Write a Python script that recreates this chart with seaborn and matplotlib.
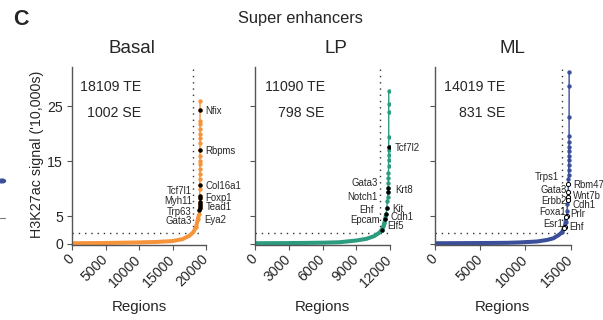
import numpy as np
import pandas as pd
import matplotlib
matplotlib.use("Agg")
import matplotlib.pyplot as plt
import seaborn as sns
from matplotlib.patches import Circle
from matplotlib.lines import Line2D

sns.set_style("ticks")
plt.rcParams["font.family"] = ["Liberation Sans", "DejaVu Sans"]

# ---------------- data ----------------
panels = ["Basal", "LP", "ML"]
te_counts = [18109, 11090, 14019]
se_counts = [1002, 798, 831]
thresholds = [2.0, 2.0, 2.0]
x_max = [20000, 12000, 15000]
x_ticks = [[0, 5000, 10000, 15000, 20000],
           [0, 3000, 6000, 9000, 12000],
           [0, 5000, 10000, 15000]]
y_ticks = [0, 5, 15, 25]
colors = ["#F6943C", "#2B9C7F", "#3A4E9A"]

basal_rank = [0, 2500, 5000, 7500, 10000, 12500, 15000, 16500, 17500, 18100,
              18500, 18800, 18950, 19010, 19035, 19045, 19052, 19058, 19064, 19070,
              19076, 19081, 19086, 19090, 19093, 19096, 19098, 19100, 19102, 19104,
              19105, 19106, 19107, 19108, 19109, 19110, 19111]
basal_signal = [0.1, 0.12, 0.15, 0.2, 0.25, 0.33, 0.5, 0.85, 1.45, 2.1,
                3.0, 4.5, 5.4, 6.2, 6.5, 6.9, 7.2, 7.6, 8.3, 8.7,
                9.9, 10.7, 11.8, 12.7, 13.6, 14.5, 15.1, 16.0, 17.1, 18.4,
                19.3, 19.9, 20.8, 21.8, 22.4, 24.3, 25.9]
basal_hl_rank = [19110, 19102, 19081, 19070, 19064, 19058, 19052, 19045, 19035, 19010]
basal_hl_signal = [24.3, 17.1, 10.7, 8.7, 8.3, 7.6, 7.2, 6.9, 6.5, 6.2]
basal_genes_right = ["Nfix", "Rbpms", "Col16a1", "Foxp1", "Tead1", "Eya2"]
basal_genes_left = ["Tcf7l1", "Myh11", "Trp63", "Gata3"]

lp_rank = [0, 2000, 4000, 6000, 7500, 9000, 9900, 10600, 11040, 11260,
           11420, 11500, 11580, 11650, 11710, 11760, 11800, 11825, 11842, 11852,
           11860, 11866, 11871, 11875, 11878, 11881, 11883, 11885, 11886, 11887, 11888]
lp_signal = [0.1, 0.12, 0.15, 0.2, 0.28, 0.6, 0.9, 1.4, 2.0, 2.5,
             3.2, 3.8, 4.5, 5.4, 6.5, 7.7, 8.6, 9.5, 10.1, 11.0,
             11.9, 12.9, 14.1, 15.3, 16.2, 17.0, 17.6, 19.4, 23.9, 25.4, 27.7]
lp_hl_rank = [11883, 11842, 11825, 11710, 11650, 11580, 11260]
lp_hl_signal = [17.6, 10.1, 9.5, 6.5, 5.4, 4.5, 2.5]
lp_genes_right = ["Tcf7l2", "Krt8", "Kit", "Cdh1", "Elf5"]
lp_genes_left = ["Gata3", "Notch1", "Ehf", "Epcam"]

ml_rank = [0, 3000, 6000, 8000, 9400, 11300, 12400, 13100, 13700, 14060,
           14250, 14380, 14460, 14530, 14580, 14620, 14660, 14700, 14725, 14745,
           14760, 14775, 14787, 14797, 14806, 14814, 14821, 14827, 14832, 14837,
           14841, 14845, 14849, 14850]
ml_signal = [0.1, 0.12, 0.15, 0.18, 0.25, 0.42, 0.7, 1.0, 1.6, 2.1,
             2.8, 3.1, 4.0, 4.8, 5.1, 6.0, 7.2, 8.0, 8.5, 9.5,
             10.9, 11.8, 12.6, 13.5, 14.4, 15.3, 16.0, 16.8, 17.6, 18.5,
             19.6, 23.0, 28.7, 31.2]
ml_hl_rank = [14760, 14745, 14725, 14700, 14580, 14530, 14380, 14250]
ml_hl_signal = [10.9, 9.5, 8.5, 8.0, 5.1, 4.8, 3.1, 2.8]
ml_genes_right = ["Rbm47", "Wnt7b", "Cdh1", "Prlr", "Ehf"]
ml_genes_left = ["Trps1", "Gata3", "Erbb2", "Foxa1", "Esr1"]

ranks = [basal_rank, lp_rank, ml_rank]
signals = [basal_signal, lp_signal, ml_signal]
hl_ranks = [basal_hl_rank, lp_hl_rank, ml_hl_rank]
hl_signals = [basal_hl_signal, lp_hl_signal, ml_hl_signal]
genes_right = [basal_genes_right, lp_genes_right, ml_genes_right]
genes_left = [basal_genes_left, lp_genes_left, ml_genes_left]

# ---------------- layout (pixels) ----------------
W, H = 603, 320
ax_left = [72, 255, 435]
ax_width = [134, 135, 135.5]
ylim = (-0.2, 32.1)
bottom_px, top_px = 244.9, 67.25

# label placement (axes-fraction x, data y)
right_pos = [
    [(0.998, 24.2), (0.998, 16.9), (0.998, 10.5), (0.998, 8.4), (0.998, 6.7), (0.985, 4.3)],
    [(1.032, 17.4), (1.037, 9.8), (1.020, 6.4), (1.005, 4.8), (0.980, 3.2)],
    [(1.021, 10.6), (1.016, 8.75), (1.016, 7.1), (0.996, 5.35), (0.991, 3.0)],
]
left_pos = [
    [(0.895, 9.6), (0.895, 7.8), (0.895, 5.7), (0.895, 4.1)],
    [(0.913, 11.0), (0.911, 8.45), (0.876, 6.1), (0.926, 4.4)],
    [(0.917, 12.1), (0.972, 9.7), (0.972, 7.85), (0.967, 5.8), (0.943, 3.6)],
]
title_x = [131.7, 336, 512]

fig = plt.figure(figsize=(W / 100, H / 100), dpi=100)
spine_col = "#555555"

for i, name in enumerate(panels):
    ax = fig.add_axes([ax_left[i] / W, (H - bottom_px) / H,
                       ax_width[i] / W, (bottom_px - top_px) / H])
    c = colors[i]
    df = pd.DataFrame({"rank": ranks[i], "signal": signals[i]})
    band = df[df["signal"] <= 5.5]
    se = df[df["rank"] >= te_counts[i]]
    hl = pd.DataFrame({"rank": hl_ranks[i], "signal": hl_signals[i]})

    # dotted cut-off lines
    ax.plot([0, df["rank"].max()], [thresholds[i]] * 2, ls=(0, (1, 3.5)),
            color="#333333", lw=1.0, zorder=1)
    ax.plot([te_counts[i]] * 2, [thresholds[i], ylim[1]], ls=(0, (1, 3.5)),
            color="#333333", lw=1.0, zorder=1)

    sns.lineplot(data=df, x="rank", y="signal", color=c, lw=1.0, sort=False,
                 estimator=None, ax=ax, zorder=2)
    sns.lineplot(data=band, x="rank", y="signal", color=c, lw=2.9, sort=False,
                 estimator=None, ax=ax, zorder=2, solid_capstyle="butt")
    sns.scatterplot(data=se, x="rank", y="signal", color=c, s=10, linewidth=0,
                    ax=ax, zorder=3)
    if i == 2:
        sns.scatterplot(data=hl, x="rank", y="signal", facecolor="white",
                        edgecolor="black", s=9, linewidth=0.7, ax=ax, zorder=4)
    else:
        sns.scatterplot(data=hl, x="rank", y="signal", color="black", s=10,
                        linewidth=0, ax=ax, zorder=4)

    ax.set_xlim(0, x_max[i])
    ax.set_ylim(*ylim)
    ax.set_xticks(x_ticks[i])
    ax.set_xticklabels([str(t) for t in x_ticks[i]])
    ax.set_yticks(y_ticks)
    if i == 0:
        ax.set_yticklabels([str(t) for t in y_ticks])
        ax.set_ylabel("H3K27ac signal ('10,000s)", fontsize=10.3, va="center")
        ax.yaxis.set_label_coords(-0.261, 0.512)
    else:
        ax.set_yticklabels([])
        ax.set_ylabel("")
    ax.set_xlabel("Regions", fontsize=10.8, va="center")
    ax.xaxis.set_label_coords(0.5, -0.348)

    sns.despine(ax=ax)
    for sp in ["left", "bottom"]:
        ax.spines[sp].set_color(spine_col)
        ax.spines[sp].set_linewidth(1.0)
    ax.tick_params(direction="out", length=3.8, width=0.8, color=spine_col,
                   labelsize=10.2)
    ax.tick_params(axis="x", pad=5)
    ax.tick_params(axis="y", pad=2.5)
    for lab in ax.get_xticklabels():
        lab.set_rotation(45)
        lab.set_ha("right")
        lab.set_va("center")
        lab.set_rotation_mode("anchor")

    # TE / SE counts
    ax.text(0.517, 0.889, f"{te_counts[i]} TE", transform=ax.transAxes,
            ha="right", va="center", fontsize=10.2)
    ax.text(0.517, 0.742, f"{se_counts[i]} SE", transform=ax.transAxes,
            ha="right", va="center", fontsize=10.2)

    # gene labels
    tr = ax.get_yaxis_transform()  # x axes, y data
    for g, (gx, gy) in zip(genes_right[i], right_pos[i]):
        ax.text(gx, gy, g, transform=tr, ha="left", va="center", fontsize=6.9,
                clip_on=False)
    for g, (gx, gy) in zip(genes_left[i], left_pos[i]):
        ax.text(gx, gy, g, transform=tr, ha="right", va="center", fontsize=6.9,
                clip_on=False)

    fig.text(title_x[i] / W, 1 - 48.3 / H, name, ha="center", va="center",
             fontsize=13.5)

fig.text(300 / W, 1 - 18 / H, "Super enhancers", ha="center", va="center",
         fontsize=11.8)
fig.text(20.5 / W, 1 - 19.5 / H, "C", ha="center", va="center",
         fontsize=15.5, fontweight="bold")

# fragments of the neighbouring panel at the left edge
fig.patches.append(Circle((2 / W, 1 - 181 / H), 3.5 / W, transform=fig.transFigure,
                          color=colors[2], zorder=5))
fig.lines.append(Line2D([0, 5 / W], [1 - 217.7 / H] * 2, transform=fig.transFigure,
                        color="#777777", lw=0.8))

fig.savefig("out.png", dpi=100)
